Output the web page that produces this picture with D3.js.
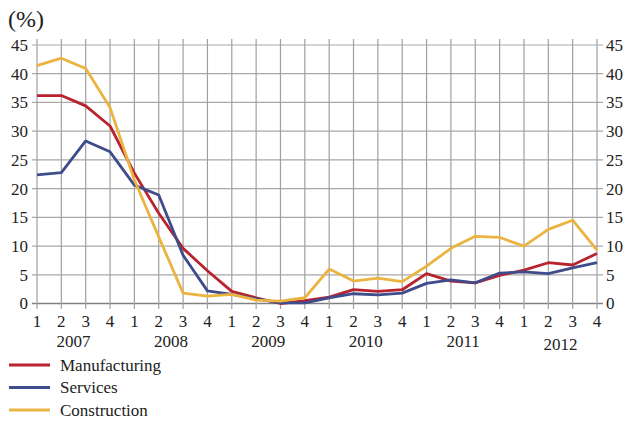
<!DOCTYPE html>
<html><head><meta charset="utf-8">
<script src="https://cdn.jsdelivr.net/npm/d3@7"></script>
<style>body{margin:0;background:#fff}svg{display:block}text{font-family:"Liberation Serif","Times New Roman",Times,serif}</style>
</head><body>
<svg id="c" width="624" height="421"></svg>
<script>
const years = ["2007","2008","2009","2010","2011","2012"];
const quarters = ["1","2","3","4"];
const yTicks = [0,5,10,15,20,25,30,35,40,45];
const manufacturing = [36.2,36.2,34.4,30.9,22.7,15.7,9.6,5.7,2.1,1.0,0.0,0.5,1.1,2.4,2.1,2.4,5.2,3.9,3.6,4.9,5.8,7.1,6.7,8.7];
const services = [22.4,22.8,28.3,26.4,20.6,18.9,8.4,2.2,1.6,0.8,0.1,0.1,1.0,1.7,1.5,1.8,3.5,4.1,3.6,5.3,5.5,5.2,6.2,7.1];
const construction = [41.4,42.7,40.9,34.1,21.5,11.6,1.8,1.3,1.6,0.6,0.4,1.0,6.0,3.9,4.4,3.8,6.5,9.6,11.7,11.5,10.0,12.9,14.5,9.3];
const seriesNames = ["Manufacturing","Services","Construction"];
const colors = ["#b8232e","#3f4c8c","#ebb340"];

const svg = d3.select("#c");
const n = manufacturing.length;
const x = d3.scaleLinear().domain([0, n-1]).range([37, 597]);
const y = d3.scaleLinear().domain([0, 45]).range([303.5, 45]);

svg.append("g").selectAll("line").data(yTicks).join("line")
  .attr("x1", 32).attr("x2", 603)
  .attr("y1", d=>y(d)).attr("y2", d=>y(d))
  .attr("stroke", d=> d===0 ? "#808080" : "#a8a8a8").attr("stroke-width", d=> d===0?1.6:1.2);
svg.append("g").selectAll("line").data(d3.range(n)).join("line")
  .attr("x1", d=>x(d)).attr("x2", d=>x(d))
  .attr("y1", 39).attr("y2", 309)
  .attr("stroke", "#a0a0a0").attr("stroke-width", 1.2);

const tf = svg.append("g").attr("font-size", 17).attr("fill", "#222");
tf.selectAll(".yl").data(yTicks).join("text").attr("class","yl")
  .attr("x", 28).attr("y", d=>y(d)).attr("dy","0.35em").attr("text-anchor","end").text(d=>d);
tf.selectAll(".yr").data(yTicks).join("text").attr("class","yr")
  .attr("x", 606).attr("y", d=>y(d)).attr("dy","0.35em").attr("text-anchor","start").text(d=>d);

const qlab = d3.range(n).map(i => quarters[i % 4]);
tf.selectAll(".q").data(qlab).join("text").attr("class","q")
  .attr("x", (d,i)=>x(i)).attr("y", 327).attr("text-anchor","middle").text(d=>d);
tf.selectAll(".yr2").data(years).join("text").attr("class","yr2")
  .attr("x", (d,i)=>x(i*4+1.5)).attr("y", (d,i)=> i===5 ? 350 : 347).attr("text-anchor","middle").text(d=>d);

svg.append("text").attr("x", 8).attr("y", 27).attr("font-size", 24).attr("fill","#222").text("(%)");

const line = d3.line().x((d,i)=>x(i)).y(d=>y(d));
[manufacturing, services, construction].forEach((s, k) => {
  svg.append("path").datum(s).attr("d", line).attr("fill","none")
    .attr("stroke", colors[k]).attr("stroke-width", 2.8).attr("stroke-linejoin","round");
});
const lg = svg.append("g");
seriesNames.forEach((nm, k) => {
  const ly = 365 + k*22.5;
  lg.append("line").attr("x1", 9).attr("x2", 50).attr("y1", ly).attr("y2", ly)
    .attr("stroke", colors[k]).attr("stroke-width", 2.8);
  lg.append("text").attr("x", 60).attr("y", ly).attr("dy","0.33em")
    .attr("font-size", 17).attr("fill","#222").text(nm);
});
</script>
</body></html>
